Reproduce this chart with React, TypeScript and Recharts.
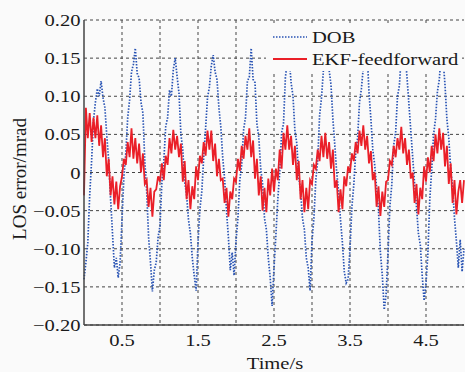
import { LineChart, Line, XAxis, YAxis, CartesianGrid, Legend } from 'recharts';

// sampled every 0.025 s, from 0 to 5 s
const SAMPLE_STEP = 0.025;

const dob = [
  -0.14, -0.118, -0.092, -0.03, 0.015, 0.068, 0.092, 0.11, 0.1, 0.12,
  0.098, 0.085, 0.048, 0.015, -0.035, -0.08, -0.125, -0.112, -0.138, -0.118,
  -0.062, -0.005, 0.025, 0.072, 0.095, 0.132, 0.142, 0.163, 0.13, 0.124,
  0.092, 0.078, 0.015, -0.025, -0.085, -0.118, -0.156, -0.128, -0.118, -0.085,
  -0.07, -0.012, 0.015, 0.06, 0.072, 0.108, 0.1, 0.135, 0.15, 0.126,
  0.104, 0.05, 0.03, -0.012, -0.03, -0.062, -0.08, -0.112, -0.135, -0.155,
  -0.092, -0.048, -0.025, 0.02, 0.058, 0.098, 0.112, 0.14, 0.154, 0.132,
  0.122, 0.085, 0.06, 0.02, -0.008, -0.05, -0.085, -0.128, -0.105, -0.135,
  -0.09, -0.06, -0.01, 0.01, 0.056, 0.072, 0.12, 0.125, 0.163, 0.122,
  0.118, 0.064, 0.046, 0.005, -0.015, -0.06, -0.075, -0.112, -0.138, -0.175,
  -0.125, -0.082, -0.035, 0.0, 0.052, 0.064, 0.125, 0.145, 0.15, 0.118,
  0.1, 0.055, 0.038, -0.005, -0.025, -0.06, -0.075, -0.112, -0.125, -0.155,
  -0.09, -0.06, -0.01, 0.015, 0.075, 0.098, 0.134, 0.142, 0.158, 0.135,
  0.115, 0.07, 0.036, 0.0, -0.025, -0.062, -0.092, -0.13, -0.145, -0.14,
  -0.1, -0.045, -0.016, 0.026, 0.045, 0.092, 0.11, 0.138, 0.145, 0.158,
  0.105, 0.07, 0.03, 0.01, -0.02, -0.05, -0.105, -0.135, -0.18, -0.16,
  -0.106, -0.044, -0.016, 0.036, 0.052, 0.1, 0.114, 0.155, 0.142, 0.156,
  0.125, 0.09, 0.055, 0.02, -0.015, -0.045, -0.08, -0.095, -0.135, -0.168,
  -0.145, -0.106, -0.035, 0.004, 0.05, 0.07, 0.106, 0.122, 0.155, 0.148,
  0.115, 0.07, 0.045, 0.004, -0.02, -0.06, -0.09, -0.125, -0.088, -0.13,
  -0.1,
];

const ekf = [
  -0.03, 0.085, 0.045, 0.078, 0.04, 0.072, 0.045, 0.075, 0.035, 0.062,
  0.02, 0.045, -0.005, 0.018, -0.03, -0.005, -0.042, -0.012, -0.048, -0.018,
  -0.005, 0.018, 0.01, 0.04, 0.02, 0.058, 0.018, 0.045, 0.012, 0.038,
  0.0, 0.025, -0.015, -0.01, -0.045, -0.02, -0.058, -0.025, -0.022, -0.005,
  -0.012, 0.012, -0.01, 0.022, 0.01, 0.045, 0.025, 0.056, 0.03, 0.048,
  0.02, 0.038, -0.012, 0.015, -0.035, -0.01, -0.048, -0.018, -0.035, 0.008,
  -0.01, 0.022, 0.012, 0.04, 0.022, 0.055, 0.03, 0.055, 0.015, 0.038,
  -0.005, 0.018, -0.01, -0.008, -0.04, -0.02, -0.058, -0.025, -0.035, -0.008,
  -0.012, 0.018, 0.002, 0.035, 0.018, 0.048, 0.03, 0.058, 0.02, 0.042,
  -0.008, 0.018, -0.03, -0.005, -0.05, -0.02, -0.052, -0.008, -0.03, 0.005,
  -0.025, 0.005, -0.01, 0.03, 0.005, 0.052, 0.03, 0.062, 0.03, 0.048,
  0.01, 0.035, -0.01, 0.015, -0.035, -0.01, -0.052, -0.02, -0.048, -0.01,
  -0.015, 0.01, 0.005, 0.03, 0.015, 0.048, 0.02, 0.052, 0.018, 0.04,
  0.005, 0.03, -0.02, -0.01, -0.052, -0.022, -0.048, -0.005, -0.018, 0.008,
  0.0, 0.025, 0.015, 0.04, 0.025, 0.055, 0.035, 0.062, 0.03, 0.048,
  0.012, 0.028, -0.01, 0.0, -0.045, -0.018, -0.057, -0.025, -0.045, -0.012,
  -0.01, 0.015, 0.01, 0.035, 0.02, 0.045, 0.03, 0.06, 0.025, 0.045,
  0.01, 0.03, -0.008, 0.0, -0.04, -0.015, -0.055, -0.02, -0.035, 0.008,
  -0.012, 0.02, 0.0, 0.035, 0.015, 0.05, 0.025, 0.058, 0.03, 0.052,
  0.008, 0.035, -0.015, 0.012, -0.04, -0.01, -0.055, -0.025, -0.01, -0.04,
  -0.01,
];

const xTicks = [0.5, 1, 1.5, 2, 2.5, 3, 3.5, 4, 4.5];
const xLabelTicks = [0.5, 1.5, 2.5, 3.5, 4.5];
const yTicks = [-0.2, -0.15, -0.1, -0.05, 0, 0.05, 0.1, 0.15, 0.2];

const data = dob.map((v, i) => ({
  t: +(i * SAMPLE_STEP).toFixed(3),
  dob: v,
  ekf: ekf[i],
}));

const FONT = '"Liberation Serif", "Times New Roman", serif';
const STRETCH = 1.17;
const BLUE = '#2853b4';
const RED = '#ea1f28';

const fmtY = (v: number) => (v === 0 ? '0' : (v < 0 ? '\u2212' : '') + Math.abs(v).toFixed(2));

const YTick = (props: any) => {
  const { y, payload } = props;
  return (
    <text
      transform={`translate(80.5 ${y + 6}) scale(${STRETCH} 1)`}
      textAnchor="end"
      fontFamily={FONT}
      fontSize={17.6}
      fill="#1a1a1a"
    >
      {fmtY(payload.value)}
    </text>
  );
};

const XTick = (props: any) => {
  const { x, payload } = props;
  if (!xLabelTicks.includes(payload.value)) return <g />;
  return (
    <text
      transform={`translate(${x} 346) scale(${STRETCH} 1)`}
      textAnchor="middle"
      fontFamily={FONT}
      fontSize={17.6}
      fill="#1a1a1a"
    >
      {payload.value}
    </text>
  );
};

const LegendBox = () => {
  const row = { display: 'flex', alignItems: 'center', height: 22 };
  const txt = {
    display: 'inline-block',
    fontFamily: FONT,
    fontSize: 17.6,
    color: '#1a1a1a',
    transform: `scaleX(${STRETCH})`,
    transformOrigin: 'left center',
    whiteSpace: 'nowrap' as const,
  };
  return (
    <div style={{ paddingTop: 2, paddingLeft: 7 }}>
      <div style={row}>
        <svg width={34} height={6} style={{ marginRight: 5 }}>
          <line x1={0} y1={3} x2={34} y2={3} stroke={BLUE} strokeWidth={1.6} strokeDasharray="1.5 1.5" />
        </svg>
        <span style={txt}>DOB</span>
      </div>
      <div style={row}>
        <svg width={34} height={6} style={{ marginRight: 5 }}>
          <line x1={0} y1={3} x2={34} y2={3} stroke={RED} strokeWidth={1.8} />
        </svg>
        <span style={txt}>EKF-feedforward</span>
      </div>
    </div>
  );
};

export default function App() {
  return (
    <div style={{ position: 'absolute', left: 0, top: 0, width: 465, height: 372, background: '#fafafa', overflow: 'hidden' }}>
      <LineChart width={465} height={372} data={data} margin={{ top: 20, right: 1, bottom: 0, left: 0 }}>
        <CartesianGrid stroke="#444" strokeDasharray="3 3" strokeWidth={1} horizontalValues={yTicks} verticalValues={xTicks} />
        <XAxis
          dataKey="t"
          type="number"
          domain={[0, 5]}
          ticks={xTicks}
          interval={0}
          height={47}
          tickLine={false}
          axisLine={{ stroke: '#444', strokeWidth: 1.5 }}
          tick={<XTick />}
          label={() => (
            <text transform={`translate(275 369) scale(${STRETCH} 1)`} textAnchor="middle" fontFamily={FONT} fontSize={17.6} fill="#1a1a1a">
              Time/s
            </text>
          )}
        />
        <XAxis xAxisId="top" orientation="top" type="number" domain={[0, 5]} height={0} tick={false} tickLine={false} axisLine={{ stroke: '#444', strokeWidth: 1.5 }} />
        <YAxis
          type="number"
          domain={[-0.2, 0.2]}
          ticks={yTicks}
          interval={0}
          width={84}
          tickLine={false}
          axisLine={{ stroke: '#444', strokeWidth: 1.5 }}
          tick={<YTick />}
          label={() => (
            <text transform="translate(26 179) rotate(-90)" textAnchor="middle" fontFamily={FONT} fontSize={19} fill="#1a1a1a">
              LOS error/mrad
            </text>
          )}
        />
        <YAxis yAxisId="right" orientation="right" type="number" domain={[-0.2, 0.2]} width={0} tick={false} tickLine={false} axisLine={{ stroke: '#444', strokeWidth: 1.5 }} />
        <Line
          type="linear"
          dataKey="dob"
          stroke={BLUE}
          strokeWidth={1.7}
          strokeDasharray="1.5 1.5"
          dot={false}
          isAnimationActive={false}
        />
        <Line
          type="linear"
          dataKey="ekf"
          stroke={RED}
          strokeWidth={1.8}
          dot={false}
          isAnimationActive={false}
        />
        <Legend
          layout="horizontal"
          verticalAlign="middle"
          align="center"
          content={<LegendBox />}
          wrapperStyle={{ top: 24, left: 266, width: 195, height: 47, background: '#fafafa' }}
        />
      </LineChart>
    </div>
  );
}
